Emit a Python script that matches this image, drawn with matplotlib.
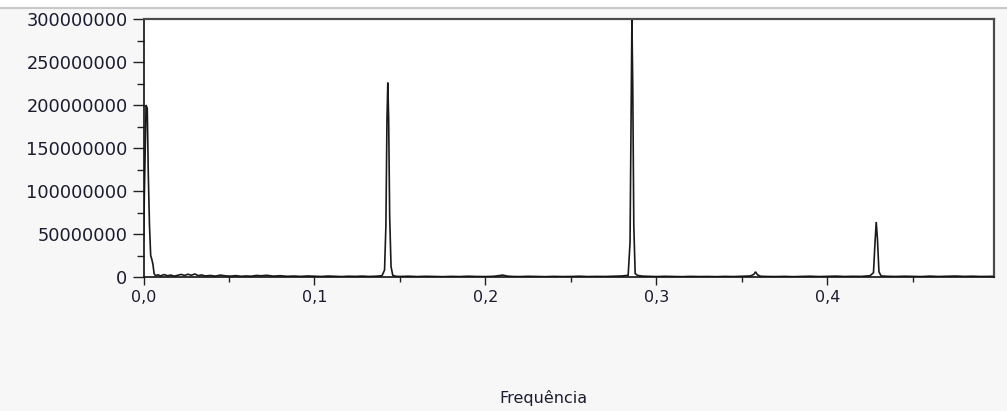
import matplotlib
matplotlib.use("Agg")
import matplotlib.pyplot as plt
from matplotlib.ticker import MultipleLocator, FuncFormatter
from matplotlib.lines import Line2D
from matplotlib.patches import Rectangle

# Frequency (cycles per sample) and spectral power (millions)
freq = [0.0000, 0.0008, 0.0015, 0.0022, 0.0028, 0.0035, 0.0042, 0.0048, 0.0055, 0.0062,
        0.0070, 0.0085, 0.0100, 0.0120, 0.0140, 0.0160, 0.0180, 0.0200, 0.0220, 0.0240,
        0.0260, 0.0280, 0.0300, 0.0320, 0.0340, 0.0360, 0.0390, 0.0420, 0.0450, 0.0480,
        0.0510, 0.0540, 0.0570, 0.0600, 0.0630, 0.0660, 0.0690, 0.0720, 0.0760, 0.0800,
        0.0840, 0.0880, 0.0920, 0.0960, 0.1000, 0.1040, 0.1080, 0.1120, 0.1160, 0.1200,
        0.1240, 0.1280, 0.1320, 0.1360, 0.1395, 0.1410, 0.1418, 0.1424, 0.1429, 0.1434,
        0.1440, 0.1448, 0.1458, 0.1475, 0.1500, 0.1550, 0.1600, 0.1650, 0.1700, 0.1750,
        0.1800, 0.1850, 0.1900, 0.1950, 0.2000, 0.2050, 0.2100, 0.2130, 0.2160, 0.2200,
        0.2250, 0.2300, 0.2350, 0.2400, 0.2450, 0.2500, 0.2550, 0.2600, 0.2650, 0.2700,
        0.2750, 0.2800, 0.2835, 0.2846, 0.2852, 0.2857, 0.2862, 0.2868, 0.2876, 0.2890,
        0.2920, 0.2960, 0.3000, 0.3050, 0.3100, 0.3150, 0.3200, 0.3250, 0.3300, 0.3350,
        0.3400, 0.3450, 0.3500, 0.3550, 0.3570, 0.3580, 0.3592, 0.3610, 0.3650, 0.3700,
        0.3750, 0.3800, 0.3850, 0.3900, 0.3950, 0.4000, 0.4050, 0.4100, 0.4150, 0.4200,
        0.4250, 0.4270, 0.4279, 0.4286, 0.4293, 0.4302, 0.4315, 0.4350, 0.4400, 0.4450,
        0.4500, 0.4550, 0.4600, 0.4650, 0.4700, 0.4750, 0.4800, 0.4850, 0.4900, 0.4975]
power = [43.0, 130.0, 200.0, 196.0, 120.0, 60.0, 25.0, 21.0, 15.0, 4.0,
         1.5, 2.5, 1.2, 2.8, 1.5, 2.2, 1.0, 2.0, 3.0, 1.8,
         3.2, 2.0, 3.5, 1.6, 2.4, 1.2, 1.8, 1.0, 2.2, 1.3,
         1.0, 1.6, 0.8, 1.2, 0.9, 1.8, 1.4, 2.0, 1.0, 1.5,
         0.8, 1.1, 0.7, 1.2, 0.9, 0.6, 1.1, 0.8, 0.5, 0.9,
         0.7, 1.0, 0.6, 0.9, 1.5, 8.0, 60.0, 180.0, 226.0, 185.0,
         70.0, 12.0, 2.0, 0.8, 0.6, 0.9, 0.5, 0.8, 0.6, 0.4,
         0.7, 0.5, 0.9, 0.6, 0.5, 0.8, 2.2, 1.0, 0.6, 0.5,
         0.8, 0.6, 0.4, 0.7, 0.5, 0.6, 0.9, 0.5, 0.7, 0.6,
         0.9, 1.2, 2.0, 40.0, 190.0, 300.0, 220.0, 60.0, 4.0, 1.8,
         1.0, 0.7, 0.5, 0.8, 0.6, 0.4, 0.7, 0.5, 0.6, 0.4,
         0.7, 0.5, 0.8, 1.2, 3.0, 6.0, 2.5, 0.8, 0.6, 0.5,
         0.7, 0.4, 0.6, 0.9, 0.5, 0.7, 1.0, 0.6, 0.8, 0.7,
         1.5, 5.0, 40.0, 64.0, 45.0, 6.0, 1.2, 0.8, 0.6, 0.9,
         0.7, 0.5, 1.0, 0.6, 0.8, 1.1, 0.7, 0.9, 0.6, 0.8]

x_major = [0.0, 0.1, 0.2, 0.3, 0.4]
x_labels = ["0,0", "0,1", "0,2", "0,3", "0,4"]
xlabel_text = "Frequência"

W, H = 1007, 411
fig = plt.figure(figsize=(W / 100, H / 100), dpi=100)
fig.patch.set_facecolor("#f7f7f7")
# white strip + thin grey line at the very top (window chrome)
fig.add_artist(Rectangle((0, 1 - 8 / H), 1, 8 / H, transform=fig.transFigure,
                         facecolor="white", edgecolor="none", zorder=0))
fig.add_artist(Line2D([0, 1], [1 - 8.5 / H, 1 - 8.5 / H], transform=fig.transFigure,
                      color="#c8c8c8", lw=1.5, zorder=1))

left, right, bottom, top = 143.5, 994, 277, 19
ax = fig.add_axes([left / W, 1 - bottom / H, (right - left) / W, (bottom - top) / H])
ax.set_facecolor("white")

ax.plot(freq, [p * 1e6 for p in power], color="#1a1a1a", lw=1.2, solid_joinstyle="miter")

ax.set_xlim(0, 0.4975)
ax.set_ylim(0, 300e6)

ax.xaxis.set_major_locator(MultipleLocator(0.1))
ax.xaxis.set_minor_locator(MultipleLocator(0.05))
ax.yaxis.set_major_locator(MultipleLocator(50e6))
ax.yaxis.set_minor_locator(MultipleLocator(25e6))
ax.set_xticks(x_major)
ax.set_xticklabels(x_labels)
ax.yaxis.set_major_formatter(FuncFormatter(lambda v, p: f"{int(round(v))}"))

txt_color = "#1c1c30"
ax.tick_params(axis="y", which="major", direction="out", length=8, width=1,
               pad=3.5, labelsize=12.8, labelcolor=txt_color, color="#222222")
ax.tick_params(axis="y", which="minor", direction="out", length=5, width=1, color="#222222")
ax.tick_params(axis="x", which="major", direction="out", length=5.8, width=1,
               pad=3.5, labelsize=11.5, labelcolor=txt_color, color="#222222")
ax.tick_params(axis="x", which="minor", direction="out", length=3.3, width=1, color="#222222")

for s in ("left", "bottom"):
    ax.spines[s].set_color("#111111")
    ax.spines[s].set_linewidth(1.2)
for s in ("top", "right"):
    ax.spines[s].set_color("#4a4a4a")
    ax.spines[s].set_linewidth(1.6)

fig.text(543 / W, 1 - 398 / H, xlabel_text, ha="center", va="center",
         fontsize=11.5, color=txt_color)

fig.savefig("out.png", dpi=100, facecolor=fig.get_facecolor())
